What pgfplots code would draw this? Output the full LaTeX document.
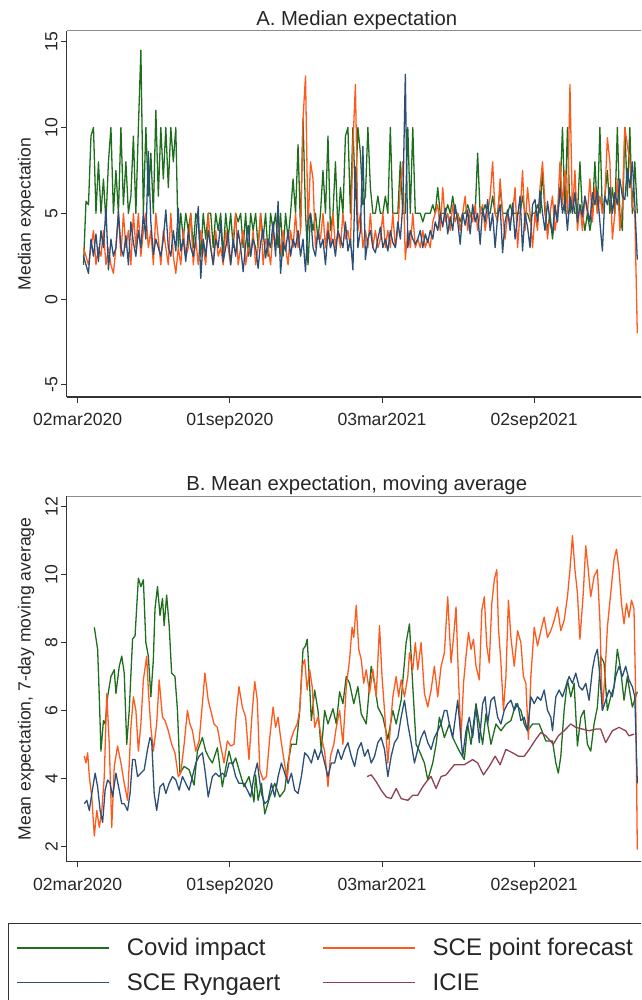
\documentclass[border=0pt]{standalone}
\usepackage{pgfplots}
\pgfplotsset{compat=1.18}
\usepackage{fontspec}
\setmainfont{Liberation Sans}

\definecolor{covid}{HTML}{1E6E1E}
\definecolor{scept}{HTML}{FF5A1E}
\definecolor{ryng}{HTML}{2C4F78}
\definecolor{icie}{HTML}{924050}
\definecolor{frame}{HTML}{333333}

% x is days since 02mar2020
\pgfplotsset{
  panel/.style={
    scale only axis, width=580pt,
    xmin=-13.2, xmax=684.3,
    axis lines=left,
    axis line style={-, draw=frame, line width=1.1pt},
    tick align=outside, major tick length=5.5pt,
    tick style={frame, line width=1pt},
    xtick={0,183,366,549},
    xticklabels={02mar2020,01sep2020,03mar2021,02sep2021},
    ticklabel style={font=\fontsize{17.6}{20}\selectfont, text=black!85},
    xticklabel style={yshift=-7pt},
    yticklabel style={rotate=90, anchor=south},
    label style={font=\fontsize{17.6}{20}\selectfont, text=black!85},
    ylabel style={at={(axis description cs:-0.0702,0.5)}, anchor=center},
    title style={font=\fontsize{20.3}{24}\selectfont, text=black!85},
    /pgf/number format/assume math mode=true,
    clip=false,
    every axis plot/.append style={line width=1.3pt, line join=round},
  }
}

\begin{document}
\begin{tikzpicture}
\useasboundingbox (0pt,0pt) rectangle (641pt,-1000pt);
\clip (0pt,0pt) rectangle (641pt,-1000pt);

% Panel A: daily medians
\begin{axis}[panel, height=366pt, at={(66.7pt,-397pt)}, anchor=south west,
  ymin=-5.7, ymax=15.62, ytick={-5,0,5,10,15},
  title={A. Median expectation},
  title style={yshift=-8pt},
  ylabel={Median expectation}]
\draw[black!45, line width=1pt] (rel axis cs:0,1) -- (rel axis cs:1,1);

\addplot[covid] coordinates {
(7,2)(10,5.7)(13,5.5)(16,9.5)(19,10)(22,5)(25,8)(28,5)(31,7)(34,4.5)(37,8)(40,10)(43,5)(46,7.5)(49,5)(52,10)(55,5.5)(58,8)(61,5)(64,6)(67,9.5)(70,5)(73,10)(76,14.5)(79,5)(82,10)(85,6)(88,8.5)(91,5)(94,11)(97,6)(100,10)(103,7)(106,10)(109,6.5)(112,10)(115,8)(118,10)
(121,3)(124,5)(127,3.5)(130,5)(133,4)(136,5)(139,3)(142,5)(145,4.5)(148,2.5)(151,5)(154,3.5)(157,5)(160,5)(163,3)(166,5)(169,4)(172,5)(175,2.5)(178,5)(181,3.5)(184,5)(187,3)(190,5)(193,4.5)(196,5)(199,3)(202,5)(205,2.5)(208,5)(211,4)(214,5)(217,3)(220,5)(223,3.5)(226,5)(229,2.5)(232,5)(235,4)(238,5)(241,3)(244,5)(247,2.5)(250,5)(253,3.5)(256,5)(259,7)
(262,5)(265,9)(268,4)(271,10.5)(274,5)(277,2)(280,5)(283,4)(286,5)(289,3.5)(292,5)(295,7.5)(298,5)(301,9.5)(304,4)(307,5)(310,8)(313,4)(316,6.5)(319,5)(322,9.5)(325,10)(328,5)(331,10)(334,6)(337,10)(340,8.5)(343,5.5)(346,6)(349,10)(352,6.5)(355,5)(358,5)(361,6)(364,5)(367,5)(370,6)(373,5)(376,10)(379,5)(382,5)(385,5)(388,8)(391,5)(394,5)(397,10)(400,5)(403,10)(406,5)
(409,5)(412,5)(415,4.5)(418,5)(421,5)(424,5)(427,5.5)(430,5)(433,6.5)(436,5)(439,5)(442,5)(445,5.5)(448,5)(451,6)(454,5)(457,5)(460,4.5)(463,5)(466,5)(469,5.5)(472,5)(475,5)(478,5)(481,8.5)(484,5)(487,5)(490,5.5)(493,5)(496,5)(499,6)(502,5)(505,5)(508,6.5)(511,5)(514,5)(517,5)(520,5.5)(523,5)(526,5)(529,5)(532,5)(535,6)(538,5)(541,5)(544,4.5)(547,5)(550,5)(553,5.5)(556,5)(559,7.5)(562,5)(565,4)(568,5)(571,3.5)(574,5)(577,5)(580,6)(583,10)(586,5)(589,10)(592,5)(595,6)(598,5)(601,5)(604,8)(607,5)(610,4)(613,5)(616,4)(619,5)(622,8)(625,5)(628,10)(631,5)(634,6)(637,7.5)(640,5)(643,6.5)(646,5)(649,10)(652,5)(655,4)(658,10)(661,6)(664,10)(667,5)(670,8)(673,5)
};
\addplot[scept] coordinates {
(7,3)(10,2.5)(13,2)(16,3)(19,4)(22,2)(25,3)(28,2.5)(31,4)(34,2)(37,3)(40,2)(43,1.5)(46,3)(49,5)(52,2.5)(55,5)(58,3)(61,4)(64,2)(67,5)(70,3)(73,5)(76,2.5)(79,4)(82,5)(85,3)(88,4)(91,2)(94,5)(97,3.5)(100,2)(103,4)(106,3)(109,2)(112,5)(115,2.5)(118,1.5)
(121,3)(124,2)(127,4)(130,2.5)(133,3)(136,5)(139,2)(142,3.5)(145,2)(148,4)(151,3)(154,2)(157,5)(160,3)(163,2)(166,4)(169,2.5)(172,3)(175,2)(178,4)(181,3)(184,2)(187,3.5)(190,5)(193,2)(196,3)(199,4)(202,2)(205,3)(208,2.5)(211,4)(214,2)(217,3)(220,5)(223,2)(226,3.5)(229,3)(232,2)(235,4)(238,3)(241,5)(244,2.5)(247,4)(250,3)(253,2)(256,4)(259,3)
(262,5)(265,3)(268,4)(271,10.5)(274,13)(277,4)(280,8)(283,7)(286,3)(289,4)(292,3.5)(295,5)(298,3)(301,4.5)(304,3)(307,5)(310,3)(313,4)(316,3)(319,5)(322,3.5)(325,4)(328,3)(331,9)(334,12.5)(337,4)(340,5)(343,3)(346,4)(349,3)(352,5)(355,3)(358,4)(361,3)(364,3.5)(367,5)(370,3)(373,4)(376,3)(379,5)(382,3)(385,4)(388,6.5)(391,8)(394,2.3)(397,4)(400,3)(403,5)(406,3)
(409,3.5)(412,3)(415,4)(418,3)(421,3.5)(424,3)(427,4.5)(430,5)(433,5.5)(436,4)(439,6.5)(442,4.5)(445,5)(448,4)(451,5.5)(454,4.5)(457,5)(460,4)(463,5)(466,6)(469,4)(472,5)(475,4.5)(478,5.5)(481,4)(484,5)(487,5.5)(490,4)(493,5)(496,6)(499,8)(502,5)(505,4.5)(508,7)(511,5)(514,3.5)(517,5)(520,4.5)(523,5)(526,6.5)(529,3)(532,5)(535,7.5)(538,4)(541,6.5)(544,5)(547,3)(550,5)(553,4)(556,6.5)(559,8)(562,5.5)(565,3.5)(568,5)(571,6)(574,4)(577,5)(580,8)(583,5.5)(586,7.5)(589,5)(592,12.5)(595,5)(598,7.5)(601,4)(604,5.5)(607,4)(610,6)(613,5)(616,7)(619,4.5)(622,6.5)(625,5)(628,6)(631,5)(634,6)(637,9.4)(640,8)(643,3.5)(646,5)(649,7)(652,4)(655,5.5)(658,10)(661,9)(664,8)(667,5.5)(670,5)(673,-2)
};
\addplot[ryng] coordinates {
(7,2.5)(10,2)(13,1.5)(16,3.5)(19,2.5)(22,3.8)(25,2.2)(28,4)(31,3)(34,5.3)(37,1.7)(40,3.5)(43,2.5)(46,3)(49,5.1)(52,3)(55,2.5)(58,3.7)(61,2)(64,4.5)(67,3.3)(70,2.5)(73,4)(76,3)(79,5)(82,3.5)(85,8.6)(88,4.5)(91,2.6)(94,3.5)(97,3)(100,2.5)(103,3.5)(106,5.2)(109,3)(112,2.5)(115,4)(118,2.8)
(121,5.3)(124,2.8)(127,3.5)(130,2.2)(133,4)(136,3)(139,2.5)(142,3.5)(145,5.4)(148,1.2)(151,3.5)(154,2.5)(157,4)(160,3)(163,2)(166,3.5)(169,3)(172,4.5)(175,2.2)(178,3)(181,3.8)(184,2)(187,3.5)(190,2.5)(193,4)(196,3)(199,1.6)(202,3.2)(205,4.3)(208,2.5)(211,3.5)(214,3)(217,1.8)(220,3.3)(223,4)(226,2.4)(229,3.5)(232,3)(235,4.5)(238,2.5)(241,5.7)(244,1.5)(247,3.3)(250,2.8)(253,4)(256,2.5)(259,3.5)
(262,3)(265,4)(268,2.5)(271,3.5)(274,1.6)(277,4.5)(280,5)(283,3)(286,2.5)(289,4)(292,3)(295,3.5)(298,2)(301,4)(304,3)(307,3.5)(310,2.5)(313,4)(316,3.5)(319,3)(322,4.5)(325,2.8)(328,3.5)(331,1.7)(334,7.7)(337,3)(340,4)(343,8.9)(346,2.3)(349,3.5)(352,4)(355,3)(358,2.7)(361,3.5)(364,4.2)(367,3)(370,3.5)(373,2.8)(376,4)(379,3.3)(382,3)(385,4.5)(388,3.5)(391,5.5)(394,13.1)(397,3)(400,4)(403,3.5)(406,3.2)
(409,3.5)(412,4)(415,3)(418,3.8)(421,3.3)(424,4)(427,3.5)(430,4.5)(433,4)(436,5)(439,4.2)(442,5.3)(445,3.8)(448,4.8)(451,4)(454,5.5)(457,4.5)(460,3.2)(463,5)(466,4.3)(469,5.2)(472,3.8)(475,5.5)(478,4.5)(481,5)(484,3.2)(487,5.3)(490,4.5)(493,5.8)(496,4)(499,5)(502,3)(505,4.8)(508,5.5)(511,2.7)(514,4.5)(517,5.2)(520,4)(523,5.6)(526,3.5)(529,4.8)(532,6)(535,2.8)(538,5)(541,4.2)(544,3)(547,5.5)(550,5.8)(553,4.5)(556,6.3)(559,5)(562,4)(565,5.7)(568,4.5)(571,3.8)(574,5.5)(577,4.5)(580,6.5)(583,5)(586,5.8)(589,4)(592,6)(595,5)(598,6.2)(601,4.5)(604,5.5)(607,4.8)(610,6)(613,5.2)(616,4.5)(619,6.2)(622,5.5)(625,6.3)(628,4.5)(631,2.8)(634,6)(637,5.5)(640,6.5)(643,5)(646,6.2)(649,5.5)(652,7)(655,6)(658,5.8)(661,7.6)(664,6.5)(667,8)(670,5.5)(673,2.3)
};
\end{axis}

% Panel B: 7-day moving averages of means
\begin{axis}[panel, height=365.7pt, at={(66.7pt,-861.7pt)}, anchor=south west,
  ymin=1.54, ymax=12.32, ytick={2,4,6,8,10,12},
  title={B. Mean expectation, moving average},
  title style={yshift=-8.5pt},
  ylabel={Mean expectation, 7-day moving average},
  legend columns=2, legend cell align=left,
  legend image code/.code={\draw[#1, line width=1.4pt] (0pt,0pt) -- (92pt,0pt);},
  legend style={at={(axis description cs:-0.1012,-0.1676)}, anchor=north west,
    draw=frame, line width=1pt, text=black!85,
    font=\fontsize{24}{28}\selectfont,
    inner xsep=8pt, inner ysep=13pt, row sep=12pt,
    /tikz/every odd column/.append style={column sep=15pt},
    /tikz/every even column/.append style={column sep=40pt}}]
\draw[black!45, line width=1pt] (rel axis cs:0,1) -- (rel axis cs:1,1);

\addplot[covid] coordinates {
(20,8.45)(24,7.8)(26,6.4)(28,4.8)(31,5.7)(33,5.6)(36,6.4)(40,7.0)(44,7.2)(46,6.5)(50,7.3)(53,7.6)(56,7.1)(59,5.0)(62,6.0)(66,8.1)(69,8.2)(73,9.9)(76,9.65)(79,9.85)(82,8.0)(85,7.6)(88,6.4)(91,7.5)(93,9.0)(96,9.65)(99,8.8)(102,9.3)(104,8.5)(107,9.4)(110,8.5)(113,7.1)(117,7.0)(120,6.0)(123,4.15)(128,4.35)(134,4.25)(140,3.8)(144,4.8)(150,5.2)(154,4.8)(158,4.6)(162,4.45)(168,4.9)(174,3.75)(178,4.3)(182,4.8)(186,4.4)(190,4.6)(194,4.25)(200,3.75)(206,4.05)(210,3.6)(212,3.3)(214,4.1)(217,3.35)(221,3.85)(225,2.95)(231,3.45)(237,3.85)(243,3.45)(249,3.65)(253,4.45)(257,5.0)(263,5.0)(267,6.0)(271,7.8)(274,7.9)(276,8.1)(278,7.2)(281,5.7)(285,6.6)(289,6.0)(293,4.8)(297,6.0)(301,5.6)(307,6.05)(311,5.6)(315,6.55)(319,6.2)(323,7.0)(327,6.8)(332,6.2)(337,6.7)(341,5.9)(347,5.6)(353,7.3)(357,6.8)(361,6.1)(367,5.8)(373,5.15)(379,6.0)(383,5.6)(389,6.3)(395,8.0)(399,8.55)(403,6.7)(407,5.0)(411,4.8)(417,4.45)(421,3.95)(427,4.45)(431,5.0)(435,5.8)(441,5.2)(447,5.6)(451,5.2)(455,5.0)(459,4.8)(465,4.55)(469,5.6)(473,5.0)(479,6.2)(483,5.6)(487,5.0)(491,5.9)(497,5.0)(503,5.6)(509,5.4)(515,5.6)(521,5.7)(527,6.2)(533,6.0)(537,5.6)(541,5.4)(547,5.6)(555,5.6)(563,5.1)(571,5.1)(575,4.45)(578,4.15)(581,4.65)(585,6.0)(589,6.9)(593,6.4)(597,6.8)(601,4.95)(605,5.8)(609,6.0)(613,5.0)(617,4.8)(621,5.6)(625,6.1)(629,7.6)(633,7.4)(637,6.0)(641,6.4)(645,6.7)(649,7.8)(653,7.2)(657,6.3)(661,7.0)(667,6.1)(673,6.55)
};
\addlegendentry{Covid impact}
\addplot[scept] coordinates {
(8,4.65)(10,4.45)(12,4.75)(14,4.05)(17,3.45)(20,2.3)(23,3.05)(26,2.55)(29,3.05)(32,4.05)(35,6.5)(38,5.0)(41,2.55)(44,4.35)(48,4.95)(52,4.45)(56,3.85)(60,3.35)(64,5.5)(67,6.4)(70,6.0)(73,4.8)(76,5.6)(79,6.9)(83,7.6)(85,6.6)(88,5.5)(91,4.8)(95,5.6)(98,6.9)(102,5.8)(105,5.7)(109,5.4)(113,5.0)(117,4.75)(121,4.05)(124,4.15)(128,5.0)(132,6.0)(135,5.6)(138,5.4)(142,4.8)(146,5.1)(150,6.2)(153,7.1)(157,6.3)(160,6.0)(164,5.6)(168,5.5)(172,4.95)(176,4.45)(180,5.1)(184,4.95)(188,5.0)(191,6.0)(194,6.7)(198,6.1)(202,5.8)(206,4.55)(210,6.0)(213,6.85)(216,6.3)(219,4.25)(223,3.95)(227,4.05)(231,5.2)(235,6.1)(238,5.5)(241,5.8)(244,5.2)(248,4.55)(252,3.95)(256,5.1)(260,5.4)(264,5.6)(267,6.0)(270,7.3)(273,7.5)(276,6.6)(279,7.2)(282,6.7)(285,5.5)(289,5.8)(293,5.2)(297,4.8)(301,3.75)(304,4.65)(308,5.0)(311,5.5)(315,6.0)(319,5.0)(323,6.7)(327,7.5)(330,8.45)(332,8.15)(335,9.1)(338,7.8)(341,7.5)(344,6.8)(347,7.2)(351,6.5)(355,7.2)(359,6.4)(363,8.5)(366,7.0)(369,6.0)(373,4.45)(376,5.5)(379,6.4)(383,7.0)(386,6.4)(389,6.9)(393,6.4)(397,7.0)(399,7.7)(403,7.2)(406,8.0)(409,7.2)(413,8.0)(417,6.5)(421,6.1)(425,6.6)(429,7.3)(433,6.4)(437,7.3)(441,7.7)(445,9.35)(449,7.4)(452,8.15)(455,9.05)(458,6.9)(461,5.15)(464,6.8)(467,7.6)(470,8.3)(473,7.8)(476,8.1)(479,7.3)(483,6.9)(486,8.95)(489,9.35)(492,7.9)(495,7.4)(498,9.15)(501,9.85)(504,10.15)(506,8.45)(509,7.4)(512,6.0)(515,7.0)(518,9.25)(521,8.15)(525,7.3)(529,8.35)(533,8.0)(536,7.0)(539,6.8)(542,5.15)(545,7.0)(549,8.45)(553,7.9)(557,8.35)(561,8.75)(565,8.15)(569,8.35)(573,8.65)(577,9.05)(581,8.35)(585,8.65)(589,9.35)(592,10.15)(595,11.15)(598,10.15)(601,9.45)(604,8.1)(608,9.45)(611,10.85)(614,10.15)(617,9.35)(621,9.95)(625,10.15)(628,8.65)(631,6.0)(634,7.0)(637,8.45)(641,9.45)(645,10.45)(648,10.75)(651,10.15)(654,9.15)(657,8.55)(660,9.15)(663,8.75)(666,9.25)(669,9.0)(671,6.5)(673,1.9)
};
\addlegendentry{SCE point forecast}
\addplot[ryng] coordinates {
(8,3.25)(11,3.35)(14,3.05)(17,3.55)(21,4.15)(24,3.75)(27,3.05)(30,2.7)(33,3.65)(36,3.95)(39,3.85)(42,3.45)(46,4.15)(50,3.65)(53,3.25)(56,3.25)(60,3.05)(63,3.55)(66,4.55)(69,4.55)(72,4.05)(76,4.15)(80,4.25)(84,4.85)(87,5.2)(89,5.1)(92,3.55)(95,3.05)(99,3.75)(103,3.85)(106,3.55)(110,3.85)(114,4.05)(118,3.95)(122,3.65)(126,4.05)(130,3.85)(134,3.65)(138,4.05)(142,4.45)(146,4.65)(150,4.75)(153,4.25)(157,3.45)(162,4.05)(166,4.15)(170,4.05)(174,4.15)(178,4.05)(182,4.45)(186,4.45)(190,4.05)(194,3.85)(200,3.85)(204,3.65)(208,3.45)(212,4.05)(216,4.45)(219,3.9)(221,3.55)(225,3.25)(229,3.35)(233,3.85)(237,3.45)(241,4.05)(245,4.45)(249,4.15)(253,3.85)(257,4.15)(261,3.65)(265,3.55)(269,4.05)(273,4.75)(277,4.65)(281,4.45)(285,4.85)(289,4.55)(293,4.85)(297,4.45)(301,4.05)(305,4.45)(309,4.45)(313,4.85)(317,4.55)(321,4.85)(325,5.05)(329,4.65)(333,4.35)(337,4.85)(341,5.05)(345,4.65)(349,4.85)(353,4.45)(357,4.65)(361,5.05)(365,5.2)(369,4.85)(373,4.05)(377,4.65)(381,5.05)(385,5.2)(389,5.8)(393,6.3)(397,5.6)(401,5.05)(405,4.45)(409,4.85)(413,5.2)(417,5.4)(421,5.05)(425,4.85)(429,5.2)(433,5.4)(437,5.6)(441,6.0)(444,6.0)(447,5.6)(451,5.2)(457,6.3)(461,5.15)(463,4.65)(467,5.4)(471,5.8)(475,5.2)(479,6.1)(483,5.05)(487,6.2)(490,6.4)(493,5.6)(497,6.3)(501,6.4)(505,5.8)(509,5.6)(513,6.0)(517,6.2)(521,6.3)(525,6.0)(529,6.2)(533,5.7)(537,5.8)(541,5.4)(545,6.4)(549,6.2)(553,6.4)(557,6.3)(561,6.6)(565,6.0)(569,5.8)(571,5.4)(575,6.4)(579,6.6)(583,6.4)(587,6.7)(591,7.0)(595,6.8)(599,7.1)(603,6.7)(607,6.6)(611,6.8)(615,6.3)(619,7.2)(622,7.6)(625,7.8)(628,7.0)(631,6.0)(635,6.3)(639,6.6)(643,6.4)(647,7.0)(651,7.3)(655,7.0)(659,7.3)(663,6.9)(667,6.7)(670,6.4)(673,3.85)
};
\addlegendentry{SCE Ryngaert}
\addplot[icie] coordinates {
(348,4.05)(353,4.1)(359,3.9)(365,3.65)(371,3.45)(377,3.4)(383,3.7)(389,3.4)(397,3.35)(403,3.5)(409,3.5)(415,3.75)(421,3.95)(425,4.05)(431,3.7)(437,4.05)(443,4.1)(453,4.4)(465,4.4)(475,4.55)(481,4.45)(488,4.1)(495,4.35)(502,4.65)(508,4.4)(515,4.85)(523,4.75)(530,4.65)(537,4.65)(543,4.85)(551,5.15)(557,5.35)(563,5.25)(572,5.0)(578,5.25)(585,5.4)(593,5.6)(599,5.5)(607,5.45)(615,5.4)(623,5.45)(629,5.45)(635,5.05)(643,5.4)(651,5.5)(659,5.4)(663,5.25)(669,5.3)
};
\addlegendentry{ICIE}
\end{axis}
\end{tikzpicture}
\end{document}
